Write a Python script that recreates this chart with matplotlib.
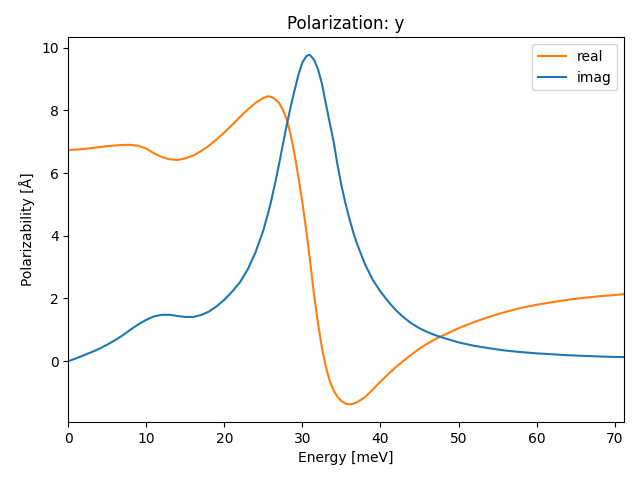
import matplotlib
matplotlib.use("Agg")
import matplotlib.pyplot as plt

energy = [0, 1, 2, 3, 4, 5, 6, 7, 8, 9, 10, 11, 12, 13, 14, 15, 16, 17, 18, 19,
          20, 21, 22, 23, 24, 25, 25.6, 26, 26.5, 27, 27.5, 28, 28.5, 29, 29.5,
          30, 30.5, 30.8, 31, 31.5, 32, 32.5, 33, 33.5, 34, 34.5, 35, 35.5, 36,
          36.5, 37, 38, 39, 40, 41, 42, 43, 44, 45, 46, 47, 48, 50, 52, 54, 56,
          58, 60, 62, 64, 66, 68, 70, 71.2]

real = [6.74, 6.75, 6.77, 6.80, 6.83, 6.86, 6.88, 6.90, 6.90, 6.87, 6.78, 6.63,
        6.51, 6.44, 6.42, 6.47, 6.56, 6.70, 6.87, 7.07, 7.30, 7.54, 7.79, 8.03,
        8.24, 8.40, 8.45, 8.43, 8.36, 8.24, 8.02, 7.70, 7.22, 6.58, 5.85, 5.05,
        4.15, 3.55, 3.15, 2.10, 1.20, 0.42, -0.18, -0.63, -0.94, -1.14, -1.27,
        -1.35, -1.38, -1.36, -1.31, -1.15, -0.91, -0.65, -0.41, -0.18, 0.02,
        0.22, 0.40, 0.56, 0.70, 0.82, 1.05, 1.25, 1.42, 1.57, 1.70, 1.80, 1.88,
        1.96, 2.02, 2.07, 2.11, 2.14]

imag = [0.00, 0.09, 0.19, 0.29, 0.40, 0.53, 0.67, 0.83, 1.01, 1.18, 1.32, 1.43,
        1.48, 1.48, 1.44, 1.41, 1.41, 1.47, 1.58, 1.75, 1.96, 2.22, 2.52, 2.93,
        3.48, 4.18, 4.72, 5.12, 5.68, 6.28, 6.92, 7.55, 8.12, 8.65, 9.15, 9.53,
        9.73, 9.77, 9.76, 9.61, 9.31, 8.85, 8.22, 7.60, 7.00, 6.25, 5.60, 5.05,
        4.56, 4.12, 3.74, 3.10, 2.60, 2.22, 1.90, 1.62, 1.39, 1.20, 1.05, 0.93,
        0.83, 0.75, 0.60, 0.49, 0.41, 0.34, 0.29, 0.25, 0.22, 0.19, 0.17, 0.15,
        0.135, 0.13]

fig = plt.figure(figsize=(6.4, 4.8), dpi=100)
ax = fig.add_axes([0.1067, 0.121, 0.975 - 0.1067, 0.922 - 0.121])
ax.plot(energy, real, color="C1", label="real")
ax.plot(energy, imag, color="C0", label="imag")
ax.set_xlim(energy[0], energy[-1])
ax.set_title("Polarization: y")
ax.set_xlabel("Energy [meV]")
ax.set_ylabel("Polarizability [Å]")
ax.legend(loc="upper right")
fig.savefig("out.png")
